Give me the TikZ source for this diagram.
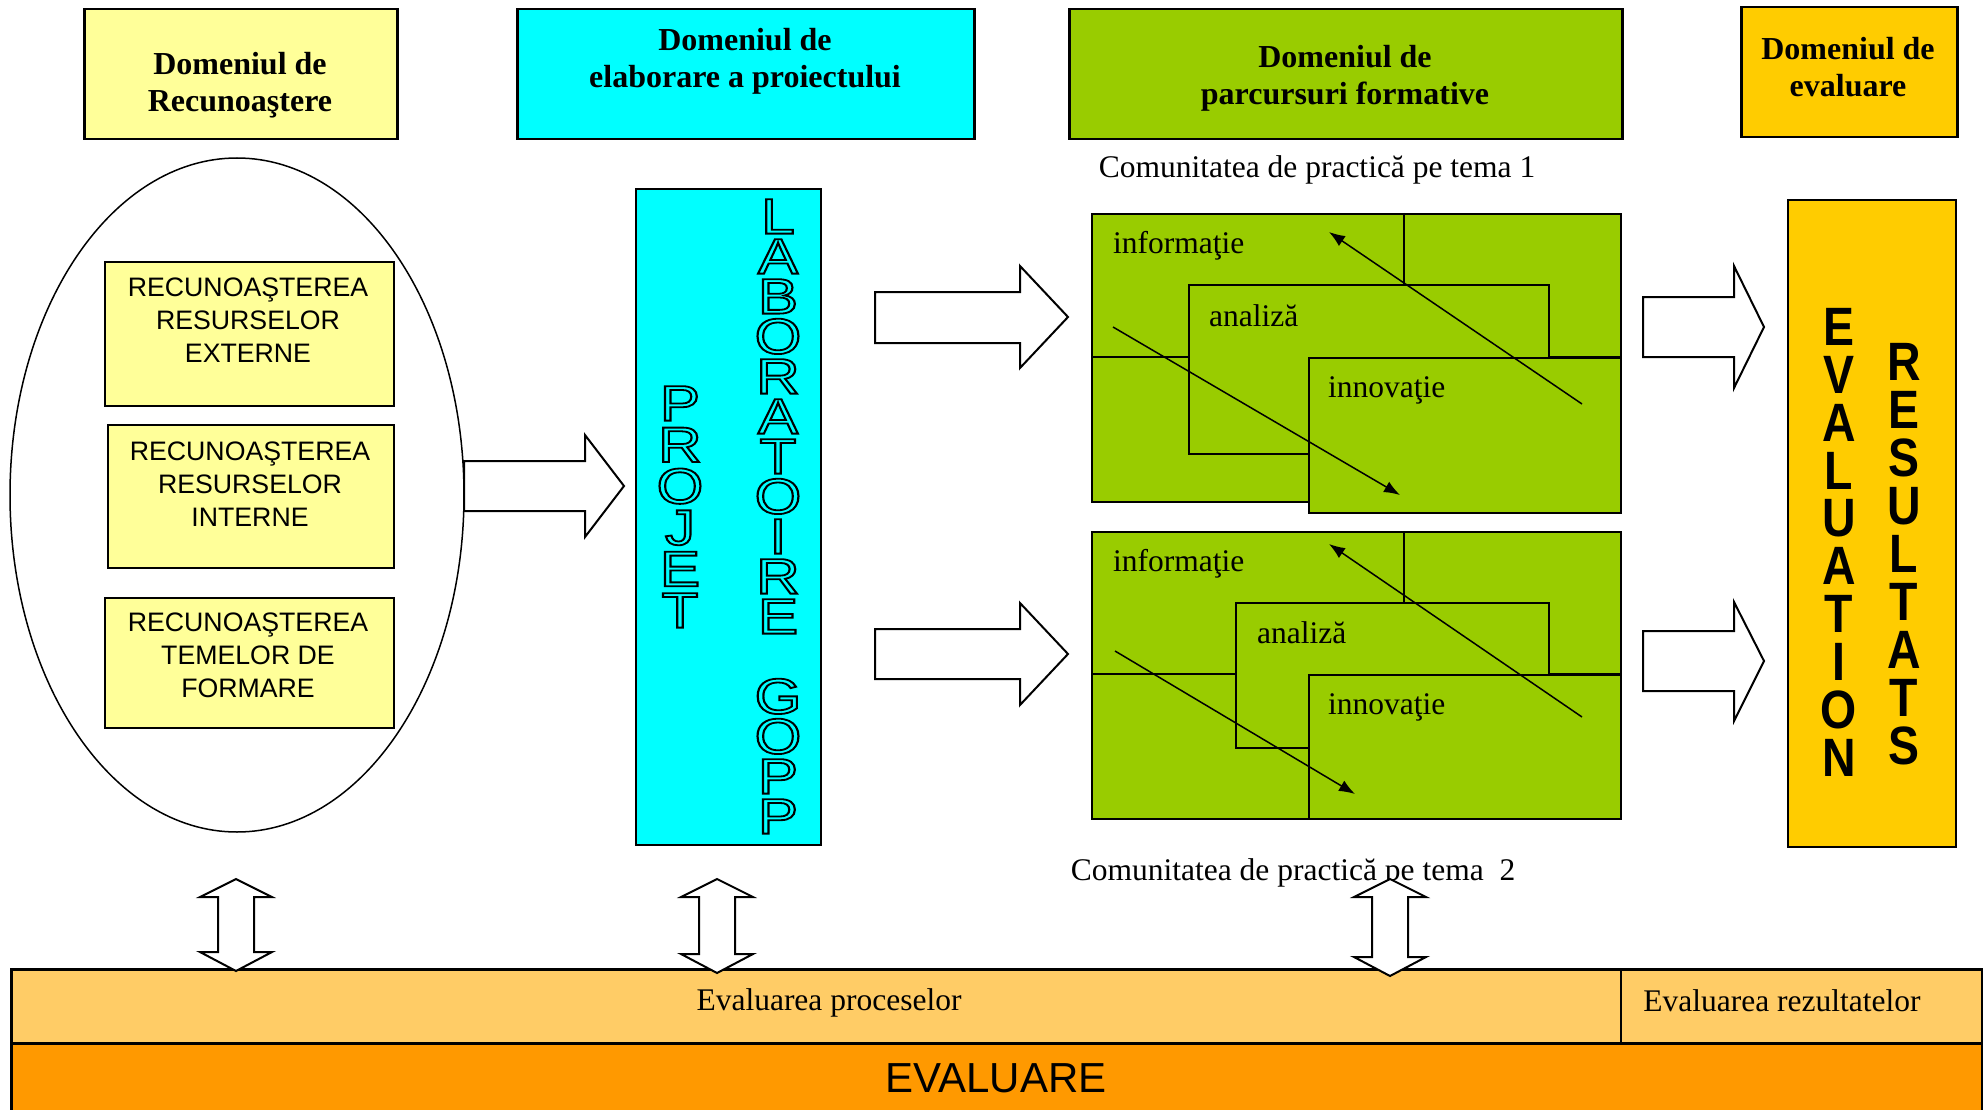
\documentclass[tikz,border=0pt]{standalone}
\usepackage{fontspec}
\setmainfont{Liberation Serif}
\newfontfamily\arialfont{Liberation Sans}
\usepackage{graphicx}
\usetikzlibrary{arrows.meta, shapes.geometric}

\definecolor{paleyellow}{HTML}{FFFF99}
\definecolor{aqua}{HTML}{00FFFF}
\definecolor{leaf}{HTML}{99CC00}
\definecolor{gold}{HTML}{FFCC00}
\definecolor{peach}{HTML}{FFCC66}
\definecolor{amber}{HTML}{FF9900}

% Hollow and narrow letters for the two columns

\newcommand\hollow[1]{\scalebox{1.2}[1]{{\color{aqua}\special{pdf:literal direct 2 Tr 1.8 w 0 0 0 RG}#1\special{pdf:literal direct 0 Tr}}}}
\newcommand\narrow[1]{\scalebox{0.86}[1]{#1}}

\begin{document}
\begin{tikzpicture}[x = 1pt, y = -1pt, > = {Latex[length = 16pt, width = 12pt]},
	headbox/.style = {draw, line width = 2.5pt, anchor = north west, inner sep = 0pt},
	headtext/.style = {font = \fontsize{32}{37}\selectfont\bfseries, align = center, inner sep = 0pt},
	recbox/.style = {draw, line width = 2pt, fill = paleyellow, anchor = north west, inner sep = 0pt},
	rectext/.style = {font = \arialfont\fontsize{26.7}{33}\selectfont, align = center, anchor = north, inner sep = 0pt},
	leafbox/.style = {draw, line width = 2pt, fill = leaf, anchor = north west, inner sep = 0pt},
	leaftext/.style = {font = \fontsize{31.5}{36}\selectfont, anchor = base west, inner sep = 0pt},
	plaintext/.style = {font = \fontsize{31.5}{36}\selectfont, inner sep = 0pt},
	blockarrow/.style = {draw, line width = 2pt, fill = white, line join = miter},
	hollowcolumn/.style = {font = \arialfont\fontsize{50}{40}\selectfont, align = center, anchor = north, inner sep = 0pt},
	boldcolumn/.style = {font = \arialfont\bfseries\fontsize{54}{47.9}\selectfont, align = center, anchor = north, inner sep = 0pt}]

\useasboundingbox (0, 0) rectangle (1983, 1110);

% Header boxes

\node [headbox, fill = paleyellow, minimum width = 313, minimum height = 130] (dom-rec) at (83, 8) {};
\node [headbox, fill = aqua, minimum width = 457, minimum height = 130] (dom-proj) at (516, 8) {};
\node [headbox, fill = leaf, minimum width = 553, minimum height = 130] (dom-form) at (1068, 8) {};
\node [headbox, fill = gold, minimum width = 216, minimum height = 130] (dom-eval) at (1740, 6) {};

\node [headtext] (dom-rec-lbl) at (240, 85) {Domeniul de\\Recunoaştere};
\node [headtext] (dom-proj-lbl) at (745, 61) {Domeniul de\\elaborare a proiectului};
\node [headtext] (dom-form-lbl) at (1345, 78) {Domeniul de\\parcursuri formative};
\node [headtext] (dom-eval-lbl) at (1848, 67) {Domeniul de\\evaluare};

% Recognition ellipse

\node [draw, ellipse, line width = 1.5pt, minimum width = 454, minimum height = 674, inner sep = 0pt] (recognition) at (237, 495) {};

\node [recbox, minimum width = 289, minimum height = 144] (rec-ext) at (104, 261) {};
\node [recbox, minimum width = 286, minimum height = 143] (rec-int) at (107, 424) {};
\node [recbox, minimum width = 289, minimum height = 130] (rec-tem) at (104, 597) {};

\node [rectext] (rec-ext-lbl) at (248, 278) {RECUNOAŞTEREA\\RESURSELOR\\EXTERNE};
\node [rectext] (rec-int-lbl) at (250, 442) {RECUNOAŞTEREA\\RESURSELOR\\INTERNE};
\node [rectext] (rec-tem-lbl) at (248, 613) {RECUNOAŞTEREA\\TEMELOR DE\\FORMARE};

% Project column

\node [recbox, fill = aqua, minimum width = 185, minimum height = 656] (projet) at (635, 188) {};

\node [hollowcolumn, font = \arialfont\fontsize{50}{41.4}\selectfont] (projet-word) at (680, 386)
	{\hollow{P}\\\hollow{R}\\\hollow{O}\\\hollow{J}\\\hollow{E}\\\hollow{T}};
\node [hollowcolumn] (lab-word) at (778, 199)
	{\hollow{L}\\\hollow{A}\\\hollow{B}\\\hollow{O}\\\hollow{R}\\\hollow{A}\\\hollow{T}\\\hollow{O}\\\hollow{I}\\\hollow{R}\\\hollow{E}\\[40pt]%
	 \hollow{G}\\\hollow{O}\\\hollow{P}\\\hollow{P}};

% Block arrows to the right

\draw [blockarrow] (464, 461) -- (585, 461) -- (585, 435) -- (624, 486) -- (585, 537) -- (585, 511) -- (464, 511) -- cycle;
\draw [blockarrow] (875, 292) -- (1020, 292) -- (1020, 266) -- (1068, 317) -- (1020, 368) -- (1020, 343) -- (875, 343) -- cycle;
\draw [blockarrow] (875, 629) -- (1020, 629) -- (1020, 603) -- (1068, 654) -- (1020, 705) -- (1020, 679) -- (875, 679) -- cycle;
\draw [blockarrow] (1643, 297) -- (1734, 297) -- (1734, 266) -- (1764, 327) -- (1734, 388) -- (1734, 357) -- (1643, 357) -- cycle;
\draw [blockarrow] (1643, 631) -- (1734, 631) -- (1734, 602) -- (1764, 661) -- (1734, 721) -- (1734, 691) -- (1643, 691) -- cycle;

% Community of practice, theme 1

\node [plaintext] (comm-1) at (1317, 170) {Comunitatea de practică pe tema 1};

\node [leafbox, minimum width = 529, minimum height = 288] (info-1) at (1091, 213) {};
\draw [line width = 2pt] (1404, 213) -- (1404, 357);
\draw [line width = 2pt] (1091, 357) -- (1620, 357);
\node [leafbox, minimum width = 360, minimum height = 169] (anal-1) at (1188, 284) {};
\node [leafbox, minimum width = 312, minimum height = 155] (inno-1) at (1308, 357) {};

\node [leaftext] (info-1-lbl) at (1113, 253) {informaţie};
\node [leaftext] (anal-1-lbl) at (1209, 326) {analiză};
\node [leaftext] (inno-1-lbl) at (1328, 397) {innovaţie};

\coordinate (down-1-start) at (1113, 327);
\coordinate (down-1-end) at (1400, 495);
\coordinate (up-1-start) at (1582, 404);
\coordinate (up-1-end) at (1329, 232);
\draw [->, line width = 1.5pt] (down-1-start) -- (down-1-end);
\draw [->, line width = 1.5pt] (up-1-start) -- (up-1-end);

% Community of practice, theme 2

\node [leafbox, minimum width = 529, minimum height = 287] (info-2) at (1091, 531) {};
\draw [line width = 2pt] (1404, 531) -- (1404, 674);
\draw [line width = 2pt] (1091, 674) -- (1620, 674);
\node [leafbox, minimum width = 313, minimum height = 145] (anal-2) at (1235, 602) {};
\node [leafbox, minimum width = 312, minimum height = 144] (inno-2) at (1308, 674) {};

\node [leaftext] (info-2-lbl) at (1113, 571) {informaţie};
\node [leaftext] (anal-2-lbl) at (1257, 643) {analiză};
\node [leaftext] (inno-2-lbl) at (1328, 714) {innovaţie};

\coordinate (down-2-start) at (1115, 651);
\coordinate (down-2-end) at (1355, 794);
\coordinate (up-2-start) at (1582, 717);
\coordinate (up-2-end) at (1329, 544);
\draw [->, line width = 1.5pt] (down-2-start) -- (down-2-end);
\draw [->, line width = 1.5pt] (up-2-start) -- (up-2-end);

\node [plaintext] (comm-2) at (1293, 873) {Comunitatea de practică pe tema~~2};

% Evaluation column

\node [recbox, fill = gold, minimum width = 168, minimum height = 647] (results) at (1787, 199) {};

\node [boldcolumn] (evaluation-word) at (1839, 308)
	{\narrow{E}\\\narrow{V}\\\narrow{A}\\\narrow{L}\\\narrow{U}\\\narrow{A}\\\narrow{T}\\\narrow{I}\\\narrow{O}\\\narrow{N}};
\node [boldcolumn, font = \arialfont\bfseries\fontsize{54}{48}\selectfont] (resultats-word) at (1904, 343)
	{\narrow{R}\\\narrow{E}\\\narrow{S}\\\narrow{U}\\\narrow{L}\\\narrow{T}\\\narrow{A}\\\narrow{T}\\\narrow{S}};

% Evaluation bands

\node [headbox, fill = peach, minimum width = 1971, minimum height = 74] (band-proc) at (10, 968) {};
\node [headbox, fill = amber, minimum width = 1971, minimum height = 80] (band-eval) at (10, 1042) {};
\draw [line width = 1.5pt] (1621, 968) -- (1621, 1042);

\node [plaintext] (proc-lbl) at (829, 1003) {Evaluarea proceselor};
\node [plaintext] (rez-lbl) at (1782, 1001) {Evaluarea rezultatelor};
\node [font = \arialfont\fontsize{42}{46}\selectfont, inner sep = 0pt] (eval-lbl) at (996, 1078) {EVALUARE};

% Double arrows down to the bands

\draw [blockarrow] (218, 897) -- (200, 897) -- (236, 879) -- (272, 897) -- (254, 897) -- (254, 952) -- (272, 952) -- (236, 971) -- (200, 952) -- (218, 952) -- cycle;
\draw [blockarrow] (699, 897) -- (681, 897) -- (717, 879) -- (753, 897) -- (735, 897) -- (735, 954) -- (753, 954) -- (717, 973) -- (681, 954) -- (699, 954) -- cycle;
\draw [blockarrow] (1372, 897) -- (1354, 897) -- (1390, 879) -- (1426, 897) -- (1408, 897) -- (1408, 957) -- (1426, 957) -- (1390, 976) -- (1354, 957) -- (1372, 957) -- cycle;

\end{tikzpicture}
\end{document}
